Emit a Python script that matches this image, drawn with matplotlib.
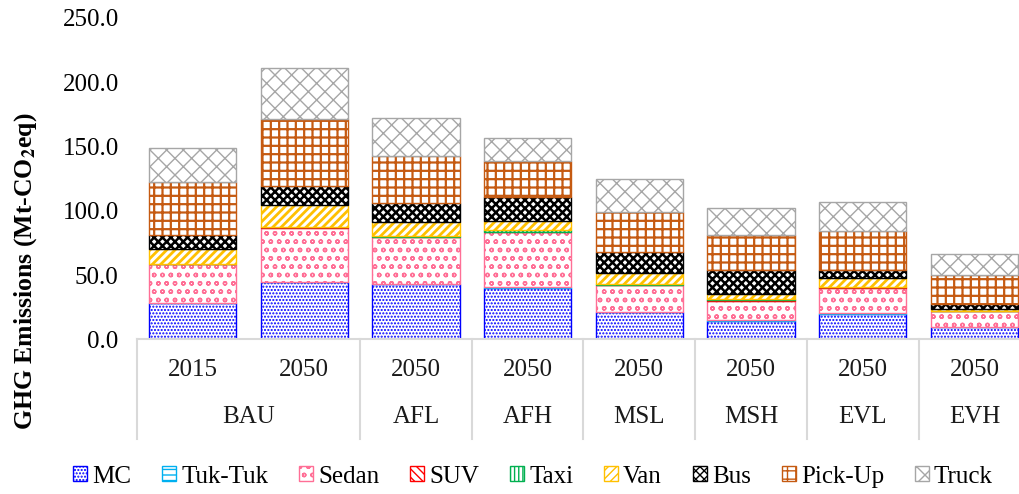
import numpy as np
import matplotlib
matplotlib.use("Agg")
import matplotlib.pyplot as plt
from matplotlib.patches import Patch

plt.rcParams['font.family'] = ['Liberation Serif', 'DejaVu Serif']
plt.rcParams['mathtext.fontset'] = 'stix'

# data
years = ['2015', '2050', '2050', '2050', '2050', '2050', '2050', '2050']
scenarios = ['BAU', 'AFL', 'AFH', 'MSL', 'MSH', 'EVL', 'EVH']
scen_span = [2, 1, 1, 1, 1, 1, 1]

mc = [28, 44.5, 43, 40, 21, 14, 20, 9.5]
tuktuk = [0.3, 0.3, 0.3, 1.0, 0.3, 1.0, 0.3, 0.3]
sedan = [30, 42, 36, 42.5, 21, 15, 20, 12]
suv = [0.3, 0.3, 0.3, 0.3, 0.3, 1.0, 0.3, 0.3]
taxi = [0.3, 0.3, 1.0, 1.0, 0.8, 0.3, 0.3, 0.3]
van = [11, 17, 10.5, 7.5, 8, 4, 7, 1.3]
bus = [11.5, 14.7, 14.7, 18, 16.5, 18.5, 6, 3.5]
pickup = [41, 52, 36.6, 28, 31.5, 27, 30, 23]
truck = [26, 40, 29.7, 18, 25, 21.5, 23, 16.5]

names = ['MC', 'Tuk-Tuk', 'Sedan', 'SUV', 'Taxi', 'Van', 'Bus', 'Pick-Up', 'Truck']
series = [mc, tuktuk, sedan, suv, taxi, van, bus, pickup, truck]
colors = ['#0000FF', '#00B0F0', '#FF6F96', '#FF0000', '#00B050',
          '#FFC000', '#000000', '#C55A11', '#A6A6A6']
hatches = ['.....', '---', 'oo', '\\\\\\\\', '||||', '////', 'xxxx', '++', 'xx']
hlw = [1.0, 1.2, 1.0, 1.5, 1.5, 2.0, 1.8, 1.6, 1.0]

fig = plt.figure(figsize=(10.19, 4.94), dpi=100)
ax = fig.add_axes([136.7 / 1019, 0.313, 893.6 / 1019, 0.651])

x = np.arange(len(years))
bottom = np.zeros(len(years))
for vals, c, h, lw in zip(series, colors, hatches, hlw):
    plt.rcParams['hatch.linewidth'] = lw
    ax.bar(x, vals, width=0.78, bottom=bottom, facecolor='white',
           edgecolor=c, hatch=h, linewidth=1.0)
    bottom += np.array(vals)

ax.set_xlim(-0.5, 7.5)
ax.set_ylim(0, 250)
ax.set_yticks(np.arange(0, 251, 50))
ax.set_yticklabels([f'{v:.1f}' for v in np.arange(0, 251, 50)], fontsize=18)
ax.tick_params(axis='y', length=0, pad=13)
ax.set_xticks([])
for s in ['top', 'right', 'left']:
    ax.spines[s].set_visible(False)
ax.spines['bottom'].set_color('#D9D9D9')
ax.spines['bottom'].set_linewidth(1.5)

trans = ax.get_xaxis_transform()
for i, yr in enumerate(years):
    ax.text(i, -0.095, yr, transform=trans, ha='center', va='center',
            fontsize=18, color='#1a1a1a')

pos = -0.5
for sc, sp in zip(scenarios, scen_span):
    ax.plot([pos, pos], [0, -0.31], transform=trans, color='#D9D9D9',
            lw=1.5, clip_on=False)
    ax.text(pos + sp / 2, -0.24, sc, transform=trans, ha='center',
            va='center', fontsize=18, color='#1a1a1a')
    pos += sp
ax.plot([pos, pos], [0, -0.31], transform=trans, color='#D9D9D9',
        lw=1.5, clip_on=False)

fig.text(0.025, 0.45, 'GHG Emissions (Mt-CO$_\\mathbf{2}$eq)', rotation=90,
         ha='center', va='center', fontsize=18.5, fontweight='bold')

plt.rcParams['hatch.linewidth'] = 1.0
handles = [Patch(facecolor='white', edgecolor=c, hatch=h) for c, h in zip(colors, hatches)]
fig.legend(handles, names, loc='center', bbox_to_anchor=(533 / 1019, 0.035),
           ncol=9, frameon=False, fontsize=18, handlelength=0.55,
           handleheight=0.55, handletextpad=0.2, columnspacing=1.25)

fig.savefig('out.png', dpi=100)
